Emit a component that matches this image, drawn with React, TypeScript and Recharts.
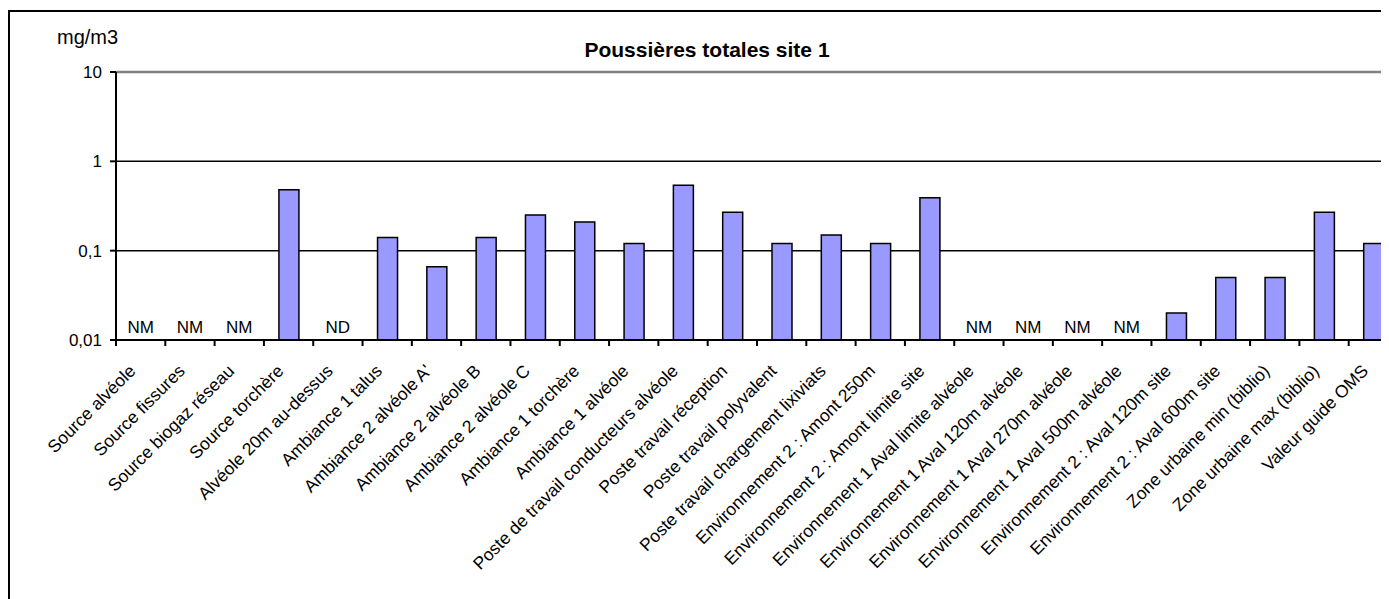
import { BarChart, Bar, XAxis, YAxis, CartesianGrid, ReferenceLine, ReferenceDot } from 'recharts';

const categories = [
  'Source alvéole',
  'Source fissures',
  'Source biogaz réseau',
  'Source torchère',
  'Alvéole 20m au-dessus',
  'Ambiance 1 talus',
  "Ambiance 2 alvéole A'",
  'Ambiance 2 alvéole B',
  'Ambiance 2 alvéole C',
  'Ambiance 1 torchère',
  'Ambiance 1 alvéole',
  'Poste de travail conducteurs alvéole',
  'Poste travail réception',
  'Poste travail polyvalent',
  'Poste travail chargement lixiviats',
  'Environnement 2 : Amont 250m',
  'Environnement 2 : Amont limite site',
  'Environnement 1 Aval limite alvéole',
  'Environnement 1 Aval 120m alvéole',
  'Environnement 1 Aval 270m alvéole',
  'Environnement 1 Aval 500m alvéole',
  'Environnement 2 : Aval 120m site',
  'Environnement 2 : Aval 600m site',
  'Zone urbaine min (biblio)',
  'Zone urbaine max (biblio)',
  'Valeur guide OMS',
];

// mg/m3, null where nothing was measured / detected
const values: (number | null)[] = [
  null, null, null, 0.48, null, 0.14, 0.066, 0.14, 0.25, 0.21, 0.12, 0.54, 0.27,
  0.12, 0.15, 0.12, 0.39, null, null, null, null, 0.02, 0.05, 0.05, 0.27, 0.12,
];

// NM = non mesuré, ND = non détecté
const status = [
  'NM', 'NM', 'NM', '', 'ND', '', '', '', '', '', '', '', '',
  '', '', '', '', 'NM', 'NM', 'NM', 'NM', '', '', '', '', '',
];

const yTicks = [0.01, 0.1, 1, 10];
const gridValues = [0.1, 1];

const data = categories.map((name, i) => ({ name, value: values[i] }));

const FONT = "Arial, 'Liberation Sans', sans-serif";
const W = 1400;
const H = 600;
const PLOT_LEFT = 106;
const PLOT_RIGHT = 1388;
const PLOT_TOP = 60;
const PLOT_BOTTOM = 328;
const Y_AXIS_W = 60;
const BAND = (PLOT_RIGHT - PLOT_LEFT) / categories.length;

const frenchNumber = (v: number) => String(v).replace('.', ',');

// category ticks sit on the band edges, labels slanted under the band centre
function CategoryTick(props: any) {
  const { x, y, payload } = props;
  const edge = x - BAND / 2;
  const tx = x - 4;
  const ty = y + 32;
  return (
    <g>
      <line x1={edge} y1={y} x2={edge} y2={y + 6} stroke="#000" strokeWidth={2} />
      <text
        x={tx}
        y={ty}
        transform={`rotate(-45, ${tx}, ${ty})`}
        textAnchor="end"
        fontSize={17.5}
        fontFamily={FONT}
        fill="#000"
      >
        {payload.value}
      </text>
    </g>
  );
}

export default function App() {
  return (
    <div style={{ width: 1381, height: 591, overflow: 'hidden', position: 'relative' }}>
      <div
        style={{
          position: 'absolute',
          top: 2,
          left: 0,
          width: W,
          height: H,
          border: '2px solid #000',
          background: '#fff',
        }}
      >
        <BarChart
          width={W}
          height={H}
          data={data}
          margin={{ top: PLOT_TOP, right: W - PLOT_RIGHT, bottom: 0, left: PLOT_LEFT - Y_AXIS_W }}
          barSize={20}
        >
          <CartesianGrid vertical={false} horizontalValues={gridValues} stroke="#000" strokeWidth={1.5} />
          <XAxis
            dataKey="name"
            interval={0}
            height={H - PLOT_BOTTOM}
            tickSize={0}
            tickMargin={0}
            tickLine={false}
            axisLine={{ stroke: '#000', strokeWidth: 2 }}
            tick={<CategoryTick />}
          />
          <YAxis
            type="number"
            scale="log"
            domain={[0.01, 10]}
            allowDataOverflow
            ticks={yTicks}
            tickFormatter={frenchNumber}
            width={Y_AXIS_W}
            tickSize={6}
            tickMargin={8}
            tickLine={{ stroke: '#000', strokeWidth: 2 }}
            axisLine={{ stroke: '#000', strokeWidth: 2 }}
            tick={{ fontSize: 17, fill: '#000', fontFamily: FONT }}
          />
          <ReferenceLine y={10} ifOverflow="visible" stroke="#808080" strokeWidth={2.5} />
          <Bar dataKey="value" fill="#9999FF" stroke="#000" strokeWidth={1.5} isAnimationActive={false} />
          {categories.map((name, i) =>
            status[i] ? (
              <ReferenceDot
                key={name}
                x={name}
                y={0.01}
                r={0}
                ifOverflow="visible"
                fill="none"
                stroke="none"
                label={{
                  value: status[i],
                  position: 'top',
                  offset: 7,
                  fontSize: 17,
                  fill: '#000',
                  fontFamily: FONT,
                }}
              />
            ) : null
          )}
        </BarChart>
        <svg
          width={W}
          height={H}
          style={{ position: 'absolute', top: 0, left: 0, pointerEvents: 'none' }}
        >
          <text x={47} y={31.5} fontSize={20} fontFamily={FONT} fill="#000">
            mg/m3
          </text>
          <text
            x={697}
            y={44.5}
            textAnchor="middle"
            fontSize={21}
            fontWeight="bold"
            fontFamily={FONT}
            fill="#000"
          >
            Poussières totales site 1
          </text>
        </svg>
      </div>
    </div>
  );
}
